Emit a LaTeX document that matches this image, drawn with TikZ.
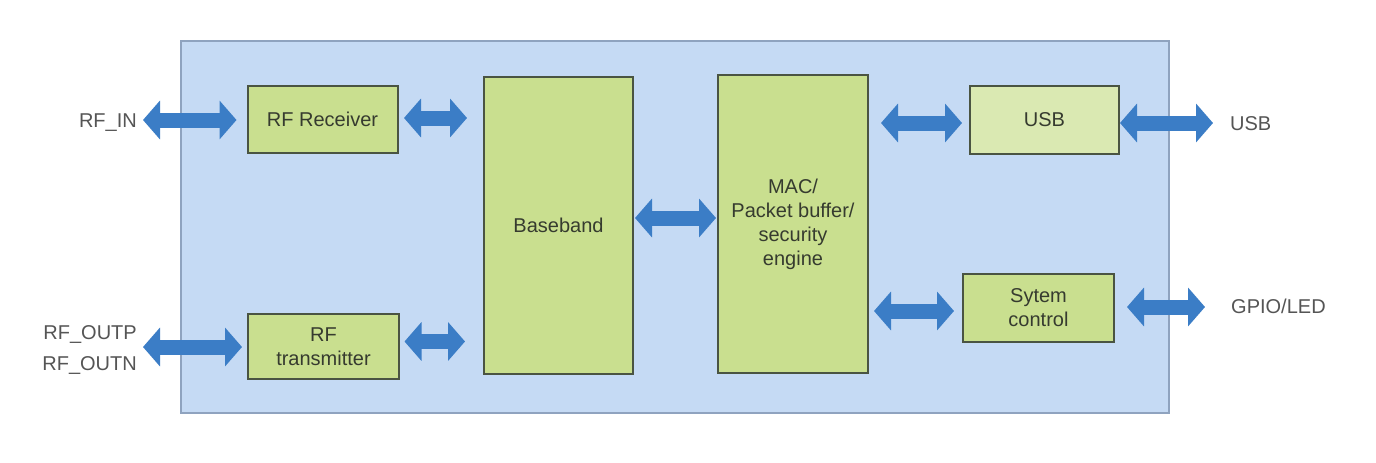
\documentclass[tikz,border=0pt]{standalone}
\usepackage{fontspec}
\setmainfont{Liberation Sans}
\usetikzlibrary{arrows.meta,calc}
\definecolor{bgblue}{HTML}{C5DAF4}
\definecolor{bgborder}{HTML}{8FA3BF}
\definecolor{boxgreen}{HTML}{C9DF8F}
\definecolor{boxlight}{HTML}{DAE9B2}
\definecolor{boxborder}{HTML}{4A5442}
\definecolor{arrowblue}{HTML}{3B7DC6}
\definecolor{labelgray}{HTML}{555555}
\definecolor{textdark}{HTML}{363B2F}
\tikzset{
  blk/.style={draw=boxborder, line width=2pt, fill=boxgreen, align=center,
    inner sep=0pt, text=textdark, font=\fontsize{20}{24}\selectfont},
  extlabel/.style={inner sep=0pt, text=labelgray, font=\fontsize{20}{31}\selectfont,
    text height=14pt, text depth=0pt},
  barrow/.style={draw=arrowblue, line width=15pt,
    {Triangle[length=17pt,width=38pt]}-{Triangle[length=17pt,width=38pt]}}
}
\begin{document}
\begin{tikzpicture}[x=1pt,y=-1pt]
\useasboundingbox (0,0) rectangle (1376,463);
\fill[white] (0,0) rectangle (1376,463);
\draw[fill=bgblue, draw=bgborder, line width=1.8pt] (181,41) rectangle (1169,413);

\node[blk, minimum width=150pt, minimum height=67pt] (rx) at (322.5,119) {RF Receiver};
\node[blk, minimum width=151pt, minimum height=65pt] (tx) at (323.5,346.5) {RF\\transmitter};
\node[blk, minimum width=149pt, minimum height=297pt] (bb) at (558.5,225) {Baseband};
\node[blk, minimum width=150pt, minimum height=298pt] (mac) at (793,224) {MAC/\\Packet buffer/\\security\\engine};
\node[blk, fill=boxlight, minimum width=149pt, minimum height=68pt] (usb) at (1044.5,120) {USB};
\node[blk, minimum width=151pt, minimum height=68pt] (sys) at (1038.5,308) {Sytem\\control};

\node[extlabel, anchor=east] (rfin) at (137,120) {RF\_IN};
\node[extlabel, anchor=east, align=right, text height=, text depth=] (rfout) at (137,350) {RF\_OUTP\\RF\_OUTN};
\node[extlabel, anchor=west] (usbout) at (1230,123) {USB};
\node[extlabel, anchor=west] (gpio) at (1231,306) {GPIO/LED};

\draw[barrow, shorten <=6pt, shorten >=10pt] (rfin.east) -- (rfin.east -| rx.west);
\draw[barrow, shorten <=5.5pt, shorten >=16pt] ([yshift=1pt]rx.east) -- ([yshift=1pt]rx.east -| bb.west);
\draw[barrow, shorten <=6pt, shorten >=5pt] ([yshift=3pt]rfout.east) -- ([yshift=3pt]rfout.east -| tx.west);
\draw[barrow, shorten <=4.5pt, shorten >=18pt] ([yshift=5pt]tx.east) -- ([yshift=5pt]tx.east -| bb.west);
\draw[barrow, shorten <=1pt, shorten >=1pt] ([yshift=7pt]bb.east) -- ([yshift=7pt]bb.east -| mac.west);
\draw[barrow, shorten <=12pt, shorten >=7pt] ([yshift=-3pt]usb.west -| mac.east) -- ([yshift=-3pt]usb.west);
\draw[barrow, shorten <=0pt, shorten >=17pt] ([yshift=-3pt]usb.east) -- ([yshift=-3pt]usb.east -| usbout.west);
\draw[barrow, shorten <=5pt, shorten >=8pt] ([yshift=-3pt]sys.west -| mac.east) -- ([yshift=-3pt]sys.west);
\draw[barrow, shorten <=12pt, shorten >=26pt] ([yshift=1pt]sys.east) -- ([yshift=1pt]sys.east -| gpio.west);
\end{tikzpicture}
\end{document}
